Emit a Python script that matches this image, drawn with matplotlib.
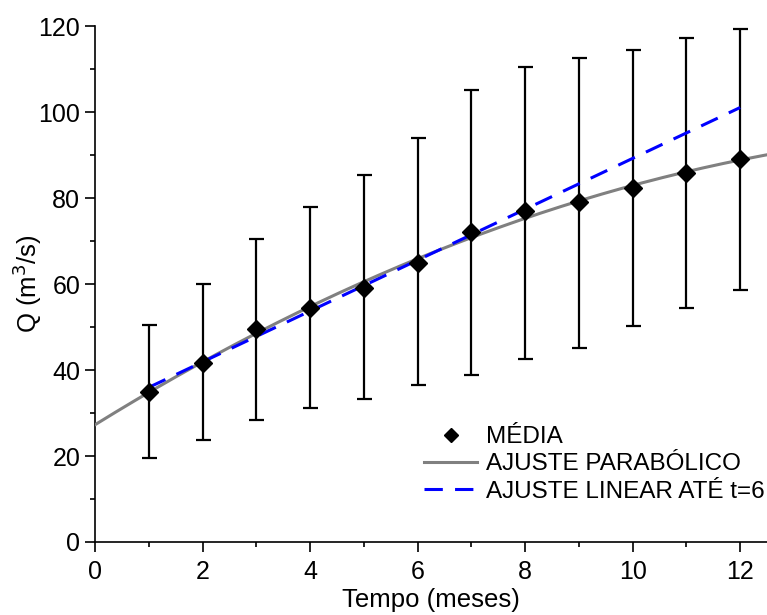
import numpy as np
import matplotlib.pyplot as plt
from matplotlib.ticker import MultipleLocator

plt.rcParams['font.family'] = ['Liberation Sans', 'DejaVu Sans']

# dados
meses = [1, 2, 3, 4, 5, 6, 7, 8, 9, 10, 11, 12]
media = [35.0, 41.6, 49.5, 54.4, 59.0, 65.0, 72.0, 77.0, 79.0, 82.3, 85.8, 89.0]
sup = [50.5, 60.0, 70.4, 77.9, 85.3, 94.0, 105.1, 110.5, 112.6, 114.4, 117.2, 119.3]
inf = [19.5, 23.7, 28.3, 31.2, 33.2, 36.5, 38.8, 42.5, 45.1, 50.2, 54.4, 58.6]

t = np.array(meses)
q = np.array(media)
err = [q - np.array(inf), np.array(sup) - q]

# ajustes
p2 = np.polyfit(t, q, 2)
p1 = np.polyfit(t[:6], q[:6], 1)
tt = np.linspace(0, 12.5, 200)
tl = np.linspace(1, 12, 50)

fig = plt.figure(figsize=(7.67, 6.15), dpi=100)
ax = fig.add_axes([0.1239, 0.1187, 0.8761, 0.8390])

ax.errorbar(t, q, yerr=err, fmt='none', ecolor='black', elinewidth=1.6,
            capsize=5.4, capthick=1.6, zorder=2)
ax.plot(t, q, 'D', color='black', markersize=9.5, label='MÉDIA', zorder=4)
ax.plot(tt, np.polyval(p2, tt), color='#808080', lw=2.2,
        label='AJUSTE PARABÓLICO', zorder=3)
ax.plot(tl, np.polyval(p1, tl), color='blue', lw=2.2, dashes=(6, 4),
        label='AJUSTE LINEAR ATÉ t=6', zorder=3)

ax.set_xlim(0, 12.5)
ax.set_ylim(0, 120)
ax.xaxis.set_major_locator(MultipleLocator(2))
ax.xaxis.set_minor_locator(MultipleLocator(1))
ax.yaxis.set_major_locator(MultipleLocator(20))
ax.yaxis.set_minor_locator(MultipleLocator(10))
ax.spines['top'].set_visible(False)
ax.spines['right'].set_visible(False)
for s in ['left', 'bottom']:
    ax.spines[s].set_linewidth(1.2)
ax.tick_params(which='major', direction='out', length=7.2, width=1.2, labelsize=18)
ax.tick_params(which='minor', direction='out', length=3.6, width=1.2)
ax.tick_params(axis='x', which='major', pad=6)

ax.set_xlabel('Tempo (meses)', fontsize=18.5)
ax.set_ylabel('Q (m$^3$/s)', fontsize=18.5)
ax.xaxis.set_label_coords(0.5, -0.09)
ax.yaxis.set_label_coords(-0.076, 0.5)

ax.legend(loc='upper left', bbox_to_anchor=(424 / 767, 1 - 426 / 615),
          bbox_transform=fig.transFigure, frameon=False, fontsize=17.5,
          borderpad=0, borderaxespad=0, handlelength=2.2, handletextpad=0.37,
          labelspacing=0.22, markerscale=0.75)

fig.savefig('out.png', dpi=100)
